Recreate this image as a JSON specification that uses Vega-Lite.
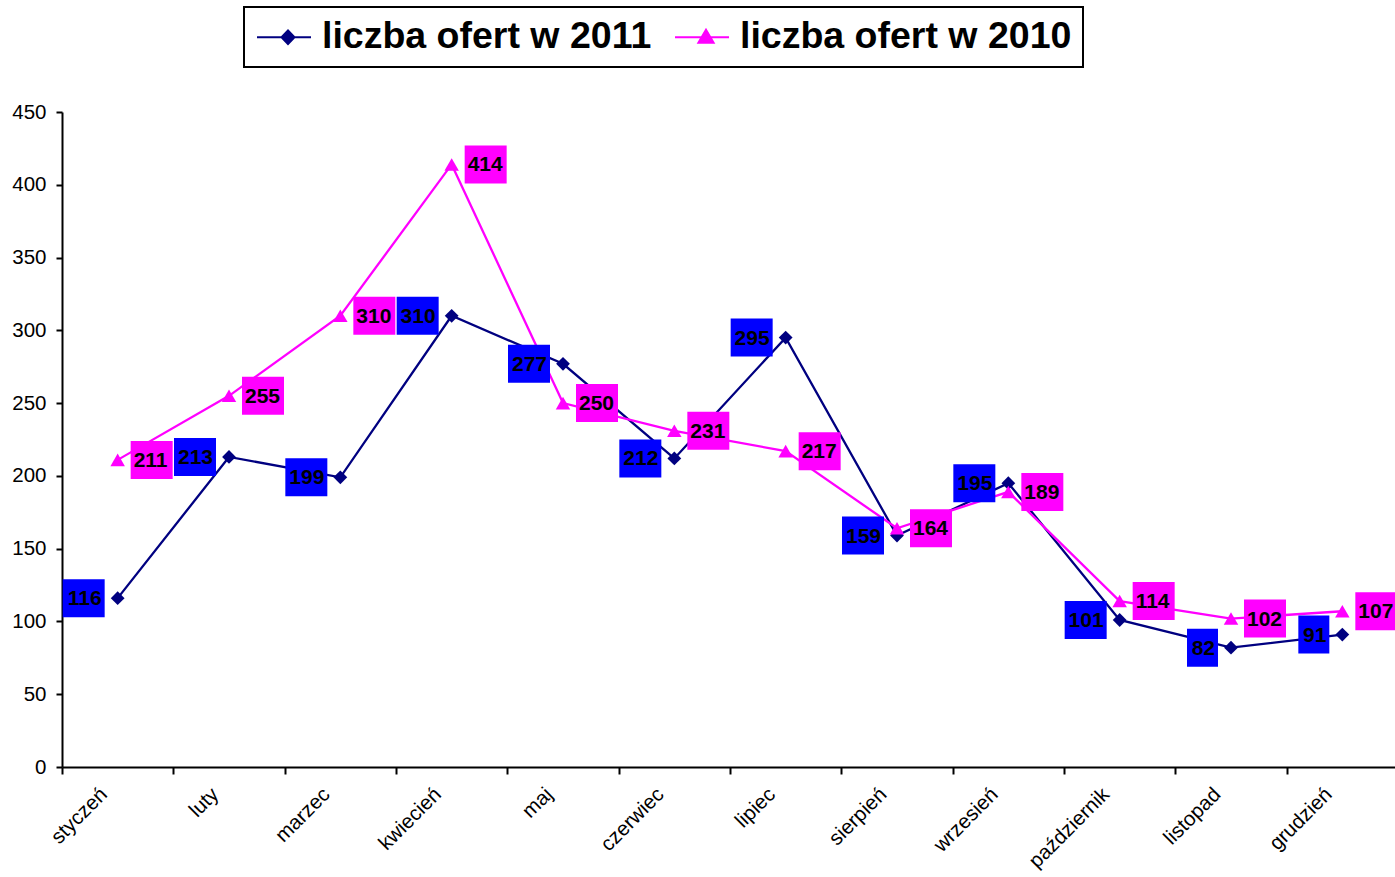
{
  "$schema": "https://vega.github.io/schema/vega-lite/v6.json",
  "autosize": {"type": "none"},
  "padding": {"left": 62, "top": 112, "right": 0, "bottom": 110},
  "width": 1336,
  "height": 655,
  "background": "white",
  "config": {
    "view": {"stroke": null},
    "font": "Liberation Sans"
  },
  "data": {
    "values": [
      {"month": "styczeń", "series": "liczba ofert w 2011", "value": 116},
      {"month": "luty", "series": "liczba ofert w 2011", "value": 213},
      {"month": "marzec", "series": "liczba ofert w 2011", "value": 199},
      {"month": "kwiecień", "series": "liczba ofert w 2011", "value": 310},
      {"month": "maj", "series": "liczba ofert w 2011", "value": 277},
      {"month": "czerwiec", "series": "liczba ofert w 2011", "value": 212},
      {"month": "lipiec", "series": "liczba ofert w 2011", "value": 295},
      {"month": "sierpień", "series": "liczba ofert w 2011", "value": 159},
      {"month": "wrzesień", "series": "liczba ofert w 2011", "value": 195},
      {"month": "październik", "series": "liczba ofert w 2011", "value": 101},
      {"month": "listopad", "series": "liczba ofert w 2011", "value": 82},
      {"month": "grudzień", "series": "liczba ofert w 2011", "value": 91},
      {"month": "styczeń", "series": "liczba ofert w 2010", "value": 211},
      {"month": "luty", "series": "liczba ofert w 2010", "value": 255},
      {"month": "marzec", "series": "liczba ofert w 2010", "value": 310},
      {"month": "kwiecień", "series": "liczba ofert w 2010", "value": 414},
      {"month": "maj", "series": "liczba ofert w 2010", "value": 250},
      {"month": "czerwiec", "series": "liczba ofert w 2010", "value": 231},
      {"month": "lipiec", "series": "liczba ofert w 2010", "value": 217},
      {"month": "sierpień", "series": "liczba ofert w 2010", "value": 164},
      {"month": "wrzesień", "series": "liczba ofert w 2010", "value": 189},
      {"month": "październik", "series": "liczba ofert w 2010", "value": 114},
      {"month": "listopad", "series": "liczba ofert w 2010", "value": 102},
      {"month": "grudzień", "series": "liczba ofert w 2010", "value": 107}
    ]
  },
  "encoding": {
    "x": {
      "field": "month",
      "type": "nominal",
      "sort": ["styczeń", "luty", "marzec", "kwiecień", "maj", "czerwiec", "lipiec", "sierpień", "wrzesień", "październik", "listopad", "grudzień"],
      "scale": {"type": "band", "paddingInner": 0, "paddingOuter": 0},
      "axis": {
        "title": null,
        "domainColor": "black",
        "domainWidth": 2,
        "tickColor": "black",
        "tickWidth": 2,
        "tickSize": 7,
        "tickBand": "extent",
        "labelAngle": -45,
        "labelAlign": "right",
        "labelBaseline": "middle",
        "labelOffset": -14,
        "labelPadding": 17,
        "labelFont": "Liberation Sans",
        "labelFontSize": 20.5,
        "labelColor": "black",
        "grid": false
      }
    },
    "y": {
      "field": "value",
      "type": "quantitative",
      "scale": {"domain": [0, 450], "nice": false, "zero": true},
      "axis": {
        "title": null,
        "values": [0, 50, 100, 150, 200, 250, 300, 350, 400, 450],
        "domainColor": "black",
        "domainWidth": 2,
        "tickColor": "black",
        "tickWidth": 2,
        "tickSize": 6,
        "labelPadding": 10,
        "labelFont": "Liberation Sans",
        "labelFontSize": 20.5,
        "labelColor": "black",
        "grid": false
      }
    }
  },
  "layer": [
    {
      "mark": {"type": "line", "strokeWidth": 2.3},
      "encoding": {
        "color": {
          "field": "series",
          "type": "nominal",
          "scale": {"domain": ["liczba ofert w 2011", "liczba ofert w 2010"], "range": ["#000080", "#FF00FF"]},
          "legend": {
            "title": null,
            "orient": "none",
            "legendX": 182,
            "legendY": -105,
            "direction": "horizontal",
            "padding": 11,
            "strokeColor": "black",
            "fillColor": "white",
            "labelFont": "Liberation Sans",
            "labelFontSize": 37.5,
            "labelFontWeight": "bold",
            "labelColor": "black",
            "labelOffset": 29,
            "labelLimit": 0,
            "columnPadding": 19,
            "symbolSize": 1296,
            "symbolStrokeWidth": 2,
            "encode": {
              "legend": {"update": {"strokeWidth": {"value": 2}}},
              "symbols": {
                "update": {
                  "shape": {"signal": "datum.value === 'liczba ofert w 2011' ? 'M-0.944,0H2.056M0.778,-0.38L1.14,0L0.778,0.38L0.416,0Z' : 'M-0.944,0H2.056M0.778,-0.42L1.2,0.3L0.356,0.3Z'"},
                  "fill": {"signal": "datum.value === 'liczba ofert w 2011' ? '#000080' : '#FF00FF'"},
                  "stroke": {"signal": "datum.value === 'liczba ofert w 2011' ? '#000080' : '#FF00FF'"},
                  "strokeWidth": {"value": 2},
                  "opacity": {"value": 1},
                  "fillOpacity": {"value": 1}
                }
              }
            }
          }
        }
      }
    },
    {
      "transform": [{"filter": "datum.series === 'liczba ofert w 2011'"}],
      "mark": {"type": "point", "filled": true, "opacity": 1, "size": 190, "shape": "diamond", "color": "#000080"}
    },
    {
      "transform": [{"filter": "datum.series === 'liczba ofert w 2010'"}],
      "mark": {"type": "point", "filled": true, "opacity": 1, "size": 210, "shape": "triangle-up", "color": "#FF00FF"}
    },
    {
      "transform": [{"filter": "datum.series === 'liczba ofert w 2011'"}],
      "mark": {"type": "point", "filled": true, "opacity": 1, "size": 4, "fill": "#0000FF", "strokeWidth": 0},
      "encoding": {
        "shape": {
          "condition": {"test": "datum.value < 100", "value": "M-44,-19H-13V19H-44Z"},
          "value": "M-55,-19H-13V19H-55Z"
        }
      }
    },
    {
      "transform": [{"filter": "datum.series === 'liczba ofert w 2010'"}],
      "mark": {"type": "point", "filled": true, "opacity": 1, "size": 4, "fill": "#FF00FF", "strokeWidth": 0},
      "encoding": {
        "shape": {"value": "M13,-19H55V19H13Z"}
      }
    },
    {
      "transform": [{"filter": "datum.series === 'liczba ofert w 2011'"}],
      "mark": {"type": "text", "align": "right", "baseline": "middle", "dx": -16, "dy": 1, "font": "Liberation Sans", "fontSize": 21, "fontWeight": "bold", "color": "black"},
      "encoding": {"text": {"field": "value", "type": "quantitative"}}
    },
    {
      "transform": [{"filter": "datum.series === 'liczba ofert w 2010'"}],
      "mark": {"type": "text", "align": "left", "baseline": "middle", "dx": 16, "dy": 1, "font": "Liberation Sans", "fontSize": 21, "fontWeight": "bold", "color": "black"},
      "encoding": {"text": {"field": "value", "type": "quantitative"}}
    }
  ]
}
